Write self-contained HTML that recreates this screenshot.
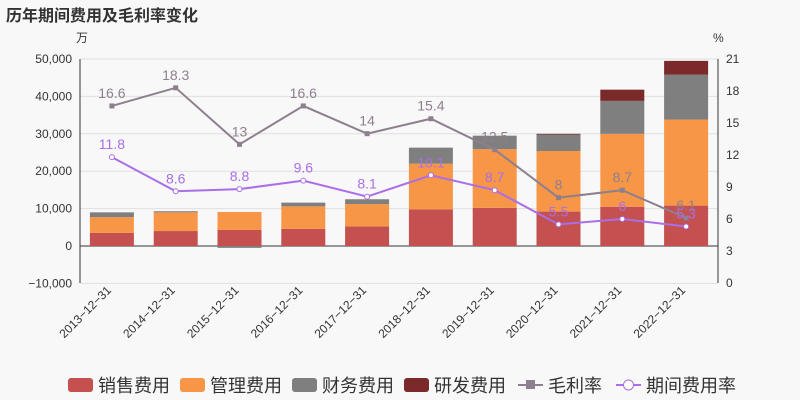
<!DOCTYPE html>
<html><head><meta charset="utf-8"><style>
body{margin:0;background:#f8f8f8;}
svg{display:block;font-family:"Liberation Sans","Noto Sans CJK SC",sans-serif;}
</style></head><body>
<svg id="c" width="800" height="400">
<text x="6" y="21" font-size="16" font-weight="bold" fill="#333">历年期间费用及毛利率变化</text>
<text x="76" y="42" font-size="12" fill="#333">万</text>
<text x="713" y="42" font-size="12" fill="#333">%</text>
</svg>
<script>
const categories=["2013-12-31","2014-12-31","2015-12-31","2016-12-31","2017-12-31","2018-12-31","2019-12-31","2020-12-31","2021-12-31","2022-12-31"];
const sales=[3500,4000,4300,4600,5200,9800,10200,9200,10500,10800];
const mgmt=[4200,5000,4800,6000,6000,12200,15700,16200,19500,23000];
const finance=[1300,300,-500,1000,1300,4300,3600,4400,8800,12000];
const rd=[0,0,0,0,0,0,0,200,3000,3700];
const grossMargin=[16.6,18.3,13,16.6,14,15.4,12.5,8,8.7,6.1];
const periodRate=[11.8,8.6,8.8,9.6,8.1,10.1,8.7,5.5,6,5.3];
const leftTicks=[-10000,0,10000,20000,30000,40000,50000];
const rightTicks=[0,3,6,9,12,15,18,21];
const NS="http://www.w3.org/2000/svg",svg=document.getElementById('c');
const L=80,R=718,T=59,B=283;
const yL=v=>246-(v)*(246-T)/50000;
const yR=v=>B-v*(B-T)/21;
const bw=(R-L)/categories.length;
const xC=i=>L+bw*(i+0.5);
function mk(t,a,p){const e=document.createElementNS(NS,t);for(const k in a)e.setAttribute(k,a[k]);(p||svg).appendChild(e);return e;}
leftTicks.forEach(v=>{
 const g=mk('line',{x1:L,x2:R,y1:yL(v),y2:yL(v),stroke:'#e0e0e0'});
 
 const t=mk('text',{x:L-8,y:yL(v)+4,'text-anchor':'end','font-size':12,fill:'#333'});t.textContent=v.toLocaleString('en-US').replace('-','−');
 
});
rightTicks.forEach(v=>{
 const t=mk('text',{x:R+8,y:yR(v)+4,'font-size':12,fill:'#333'});t.textContent=v;
 
});
mk('line',{x1:L,x2:L,y1:T,y2:B,stroke:'#333'});
mk('line',{x1:R,x2:R,y1:T,y2:B,stroke:'#333'});
mk('line',{x1:L,x2:R,y1:yL(0),y2:yL(0),stroke:'#333'});
const series=[[sales,'#c4504f','bar-sales'],[mgmt,'#f79646','bar-management'],[finance,'#7f7f7f','bar-finance'],[rd,'#7b2a2a','bar-rd']];
categories.forEach((c,i)=>{
 let pos=0,neg=0;
 series.forEach(([arr,col,nm])=>{
  const v=arr[i];if(!v)return;
  let y0,y1;
  if(v>=0){y0=pos;y1=pos+v;pos=y1;}else{y0=neg;y1=neg+v;neg=y1;}
  const r=mk('rect',{x:xC(i)-22,width:44,y:Math.min(yL(y0),yL(y1)),height:Math.abs(yL(y0)-yL(y1)),fill:col});
  
 });
 const tx=xC(i),ty=B+8;
 const t=mk('text',{x:tx,y:ty,'text-anchor':'end','font-size':12,fill:'#333',transform:`rotate(-45 ${tx} ${ty})`});t.textContent=c.replace(/-/g,'−');
 
});
function line(arr,col,nm,sym){
 const p=mk('polyline',{points:arr.map((v,i)=>xC(i)+','+yR(v)).join(' '),fill:'none',stroke:col,'stroke-width':2});
 
 arr.forEach((v,i)=>{
  const m=sym=='rect'?mk('rect',{x:xC(i)-2.5,y:yR(v)-2.5,width:5,height:5,fill:col}):mk('circle',{cx:xC(i),cy:yR(v),r:2.5,fill:'#fff',stroke:col});
  
  const t=mk('text',{x:xC(i),y:yR(v)-8,'text-anchor':'middle','font-size':14,fill:col});t.textContent=v;
  
 });
}
line(grossMargin,'#8e7f8e','gross-margin-line','rect');
line(periodRate,'#a96ee8','period-rate-line','circle');
const leg=[['销售费用','#c4504f','b',68],['管理费用','#f79646','b',180],['财务费用','#7f7f7f','b',292],['研发费用','#7b2a2a','b',404],['毛利率','#8e7f8e','l',518],['期间费用率','#a96ee8','c',616]];
leg.forEach(([n,col,k,x])=>{
 const g=mk('g',{});
 if(k=='b')mk('rect',{x:x,y:378,width:25,height:14,rx:3,fill:col},g);
 else{mk('line',{x1:x,x2:x+25,y1:385,y2:385,stroke:col,'stroke-width':2},g);
  if(k=='l')mk('rect',{x:x+8,y:380,width:9,height:9,fill:col},g);else mk('circle',{cx:x+12.5,cy:385,r:5,fill:'#fff',stroke:col},g);}
 const t=mk('text',{x:x+30,y:392,'font-size':18,fill:'#333'},g);t.textContent=n;
});
</script>
</body></html>
